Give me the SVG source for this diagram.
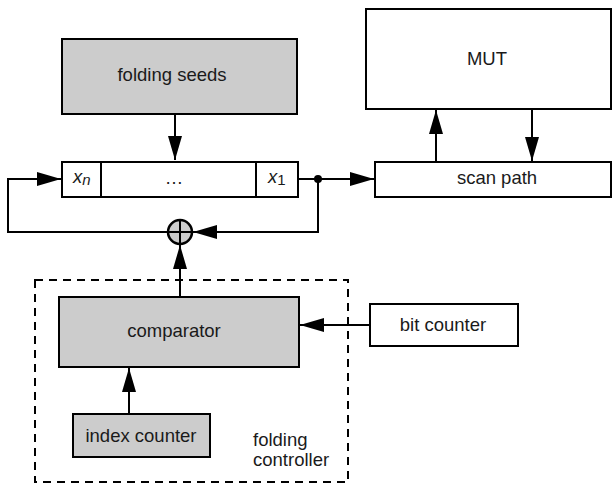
<svg xmlns="http://www.w3.org/2000/svg" width="613" height="484" viewBox="0 0 613 484">
<style>
.box{stroke:#000;stroke-width:2}
.g{fill:#cccccc}
.w{fill:#ffffff}
.ln{fill:none;stroke:#000;stroke-width:2}
.t{font-family:"Liberation Sans",Arial,sans-serif;font-size:18.5px;fill:#1a1a1a}
</style>
<defs>
<marker id="ah" markerUnits="userSpaceOnUse" markerWidth="26" markerHeight="16" refX="24" refY="7" orient="auto">
<path d="M0,0 L24,7 L0,14 Z" fill="#000"/>
</marker>
</defs>
<rect width="613" height="484" fill="#fff"/>
<g id="connectors">
<path class="ln" d="M175,114 V160" marker-end="url(#ah)"/>
<path class="ln" d="M298,179 H374" marker-end="url(#ah)"/>
<path class="ln" d="M318,179 V232 H193" marker-end="url(#ah)"/>
<path class="ln" d="M168,232 H8 V179 H61" marker-end="url(#ah)"/>
<path class="ln" d="M180,297 V245" marker-end="url(#ah)"/>
<path class="ln" d="M370,325 H300" marker-end="url(#ah)"/>
<path class="ln" d="M129,414 V368" marker-end="url(#ah)"/>
<path class="ln" d="M436,162 V110" marker-end="url(#ah)"/>
<path class="ln" d="M532,109 V161" marker-end="url(#ah)"/>
<circle cx="318" cy="179" r="4" fill="#000"/>
</g>
<g id="controller">
<rect x="35" y="280" width="313" height="202" fill="none" stroke="#000" stroke-width="2" stroke-dasharray="8,6"/>
<text class="t" x="253" y="446">folding</text>
<text class="t" x="253" y="466">controller</text>
</g>
<g id="folding-seeds">
<rect class="box g" x="62" y="39" width="235" height="75"/>
<text class="t" x="172" y="81" text-anchor="middle">folding seeds</text>
</g>
<g id="register">
<rect class="box w" x="62" y="162" width="236" height="35"/>
<line class="ln" x1="101" y1="162" x2="101" y2="197"/>
<line class="ln" x1="256" y1="162" x2="256" y2="197"/>
<text class="t" x="73" y="183" font-style="italic">x<tspan font-size="15" dy="2">n</tspan></text>
<text class="t" x="174" y="184" text-anchor="middle">…</text>
<text class="t" x="268" y="183" font-style="italic">x<tspan font-size="15" dy="2" font-style="normal">1</tspan></text>
</g>
<g id="xor">
<circle cx="180" cy="232" r="12" fill="#cccccc" stroke="#000" stroke-width="2.5"/>
<line x1="168" y1="232" x2="192" y2="232" stroke="#000" stroke-width="2"/>
<line x1="180" y1="220" x2="180" y2="244" stroke="#000" stroke-width="2"/>
</g>
<g id="mut">
<rect class="box w" x="366" y="9" width="245" height="100"/>
<text class="t" x="487" y="65" text-anchor="middle">MUT</text>
</g>
<g id="scan-path">
<rect class="box w" x="375" y="162" width="236" height="35"/>
<text class="t" x="497" y="184" text-anchor="middle">scan path</text>
</g>
<g id="comparator">
<rect class="box g" x="59" y="297" width="240" height="70"/>
<text class="t" x="174" y="337" text-anchor="middle">comparator</text>
</g>
<g id="index-counter">
<rect class="box g" x="73" y="414" width="137" height="43"/>
<text class="t" x="141" y="442" text-anchor="middle">index counter</text>
</g>
<g id="bit-counter">
<rect class="box w" x="370" y="304" width="148" height="42"/>
<text class="t" x="443" y="331" text-anchor="middle">bit counter</text>
</g>
</svg>
